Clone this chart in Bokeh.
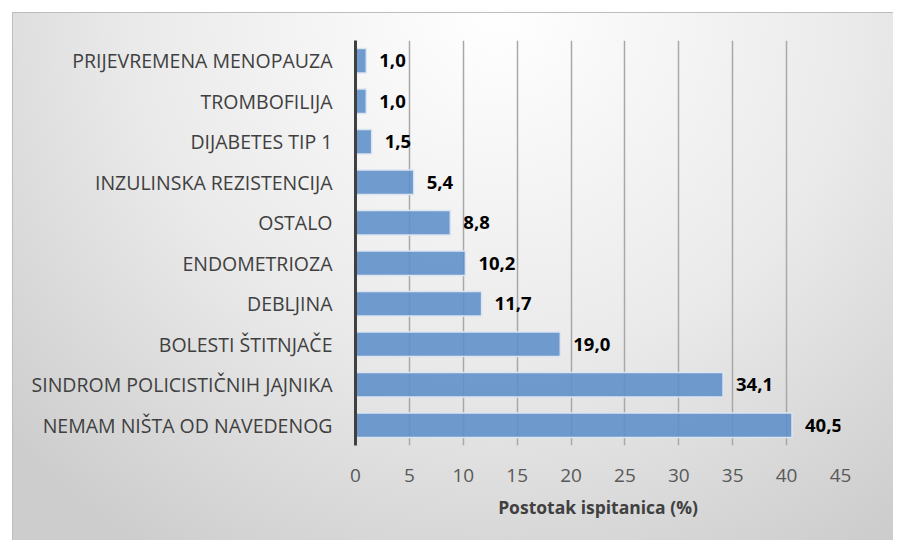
from bokeh.plotting import figure
from bokeh.models import ColumnDataSource, FactorRange, Range1d, FixedTicker
from bokeh.embed import file_html
from bokeh.resources import INLINE
from bokeh.core.properties import value

categories = ["NEMAM NIŠTA OD NAVEDENOG", "SINDROM POLICISTIČNIH JAJNIKA", "BOLESTI ŠTITNJAČE",
              "DEBLJINA", "ENDOMETRIOZA", "OSTALO", "INZULINSKA REZISTENCIJA",
              "DIJABETES TIP 1", "TROMBOFILIJA", "PRIJEVREMENA MENOPAUZA"]
values = [40.5, 34.1, 19.0, 11.7, 10.2, 8.8, 5.4, 1.5, 1.0, 1.0]
x_ticks = [0, 5, 10, 15, 20, 25, 30, 35, 40, 45]
x_title = "Postotak ispitanica (%)"

labels = [f"{v:.1f}".replace(".", ",") for v in values]
src = ColumnDataSource(dict(cat=categories, val=values, lab=labels))

FONT = "Open Sans"

p = figure(width=893, height=540, output_backend="svg", toolbar_location=None,
           y_range=FactorRange(*categories, range_padding=0),
           x_range=Range1d(0, 45),
           min_border_left=355, min_border_right=53, min_border_top=40, min_border_bottom=95)

p.styles = {
    "background": ("linear-gradient(#bdbdbd,#bdbdbd) 12px 12px / 100% 1px no-repeat, "
                   "linear-gradient(#bdbdbd,#bdbdbd) 12px 12px / 1px 100% no-repeat, "
                   "radial-gradient(ellipse 75% 120% at 55% 0%, #ffffff 0%, #eaeaea 55%, #cdcdcd 100%) "
                   "12px 12px / calc(100% - 12px) calc(100% - 12px) no-repeat, #ffffff"),
}
p.background_fill_color = None
p.border_fill_color = None
p.outline_line_color = None

p.hbar(y="cat", right="val", left=0, height=0.6, source=src,
       fill_color="#5d8ec8", fill_alpha=0.88, line_color="#dbe5f1", line_width=1.5)

p.text(x="val", y="cat", text="lab", source=src, x_offset=13,
       text_font=value(FONT), text_font_style="bold", text_font_size="18.5px",
       text_color="#000000", text_align="left", text_baseline="middle")

# grid
p.ygrid.grid_line_color = None
p.xgrid.grid_line_color = "#a8a8a8"
p.xgrid.grid_line_width = 1.5
p.xgrid.ticker = FixedTicker(ticks=x_ticks[1:])

# x axis
p.xaxis.ticker = FixedTicker(ticks=x_ticks)
p.xaxis.axis_line_color = None
p.xaxis.major_tick_line_color = None
p.xaxis.minor_tick_line_color = None
p.xaxis.major_label_text_font = FONT
p.xaxis.major_label_text_font_size = "19px"
p.xaxis.major_label_text_color = "#595959"
p.xaxis.major_label_standoff = 17
p.xaxis.axis_label = x_title
p.xaxis.axis_label_text_font = FONT
p.xaxis.axis_label_text_font_size = "17.5px"
p.xaxis.axis_label_text_font_style = "bold"
p.xaxis.axis_label_text_color = "#404040"
p.xaxis.axis_label_standoff = 10

# y axis
p.yaxis.axis_line_color = "#404040"
p.yaxis.axis_line_width = 3
p.yaxis.major_tick_line_color = None
p.yaxis.minor_tick_line_color = None
p.yaxis.major_label_text_font = FONT
p.yaxis.major_label_text_font_size = "19.5px"
p.yaxis.major_label_text_color = "#404040"
p.yaxis.major_label_standoff = 17

open("out.html", "w").write(file_html(p, INLINE))
